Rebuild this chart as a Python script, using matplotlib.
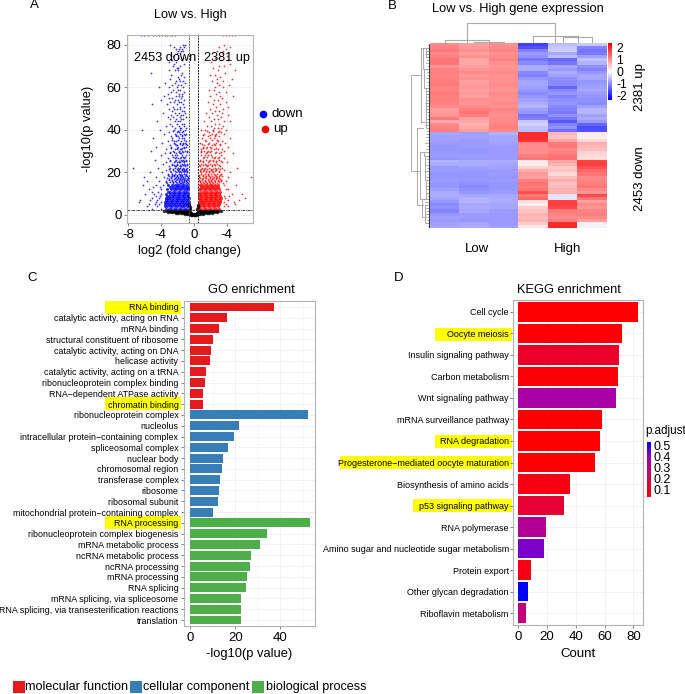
import matplotlib
matplotlib.use("Agg")
import matplotlib.pyplot as plt
from matplotlib.colors import LinearSegmentedColormap, Normalize
from matplotlib.patches import Rectangle
import numpy as np

W, H = 685, 694

# volcano, rows of points: y level, then x values
down_levels = [80, 79, 78, 77, 76, 75, 74, 73, 72, 71, 70, 69, 68, 67, 66, 65, 64, 63, 62, 61, 60, 59, 58, 57, 56, 55, 54, 53, 52, 51,
               50, 49, 48, 47, 46, 45, 44, 43, 42, 41, 40, 39, 38, 37, 36, 35, 34, 33, 32, 31, 30, 29, 28, 27, 26, 25, 24, 23, 22, 21,
               20, 19, 18, 17, 16, 15]
down_rows = [
    [-2.93, -1.32, -1.08], [-2.41, -1.62, -1.21], [-2.12, -1.83, -1.47], [-1.94, -1.58, -1.33], [-2.03, -1.71], [-2.55], [-1.92, -1.31], [-2.66, -1.44],
    [-3.02, -2.18], [-1.12, -2.37], [-2.51, -1.63], [-2.04, -1.86], [-3.04, -2.31, -1.92], [-5.21, -1.41], [-2.72, -1.57], [-1.91, -1.22], [-2.88, -1.73],
    [-2.21, -1.34, -1.68], [-3.52, -2.33, -1.11], [-1.94, -1.52, -2.62], [-4.22, -2.97, -2.05, -1.31], [-2.48, -1.63, -1.87], [-2.73, -1.22, -2.12],
    [-1.74, -3.11, -1.41], [-3.63, -2.21, -1.38, -1.83], [-2.62, -1.57, -2.94], [-4.03, -2.31, -1.12, -1.91], [-2.87, -1.52, -1.73, -2.42],
    [-5.02, -3.22, -2.03, -1.32], [-2.53, -1.63, -1.18], [-3.04, -2.41, -1.72, -2.02], [-1.22, -2.68, -1.43], [-3.72, -2.22, -1.81, -1.03],
    [-2.72, -1.53, -2.01, -1.24], [-3.13, -2.47, -1.72, -0.94], [-2.14, -1.33, -1.58, -2.82], [-4.41, -2.33, -1.63, -1.92], [-2.83, -1.22, -1.44, -2.08],
    [-3.34, -2.61, -1.83, -1.12], [-2.24, -1.52, -1.71, -0.98], [-6.31, -4.12, -2.44, -1.66, -1.03], [-3.01, -2.02, -1.38, -1.79],
    [-3.63, -2.33, -1.62, -0.92, -1.22], [-2.81, -1.94, -2.15, -1.43], [-4.92, -2.62, -1.82, -1.13, -1.37], [-3.14, -2.11, -1.58, -2.37, -0.88],
    [-3.91, -2.41, -1.72, -1.03, -1.29], [-2.93, -1.98, -2.21, -1.48, -0.82], [-4.52, -2.72, -1.87, -1.22, -0.91], [-3.31, -2.23, -1.53, -2.03, -1.71],
    [-5.13, -2.51, -1.83, -1.11, -1.38, -0.83], [-3.52, -2.92, -2.13, -1.52, -1.69], [-4.03, -2.62, -1.98, -1.42, -0.92, -2.31], [-3.13, -2.27, -1.72, -1.14, -1.88],
    [-4.72, -2.83, -2.11, -1.53, -0.93, -1.28], [-3.41, -2.41, -1.82, -1.22, -2.02, -1.63], [-3.72, -2.62, -1.98, -1.41, -0.81, -1.12],
    [-3.03, -2.33, -1.71, -1.07, -1.52, -2.11], [-7.38, -4.33, -2.83, -2.22, -1.62, -0.83, -1.31, -1.88], [-3.34, -2.52, -1.93, -1.41, -0.97, -1.18],
    [-5.33, -3.91, -2.73, -2.13, -1.83, -1.22, -1.58, -0.82], [-3.12, -2.42, -1.98, -1.47, -0.91, -1.71, -2.63], [-6.02, -4.62, -3.63, -2.72, -2.18, -1.53, -0.72, -1.26, -1.87],
    [-3.03, -2.41, -2.03, -1.62, -1.12, -0.83, -1.38], [-5.72, -4.23, -3.41, -2.68, -2.23, -1.81, -1.42, -0.88, -1.13], [-3.22, -2.53, -2.07, -1.69, -1.27, -0.71, -0.98, -1.51],
]
# the busier band between y 15 and y 40
down_fill_levels = [39.5, 37.5, 35.5, 33.5, 31.5, 29.5, 27.5, 25.5, 23.5, 21.5, 20.5, 19.5, 18.5, 17.5, 16.5, 15.5]
down_fill_rows = [
    [-2.57, -1.86, -1.27], [-2.12, -1.48, -1.06], [-2.66, -1.96, -1.19], [-2.28, -1.61, -0.97, -1.34],
    [-2.74, -2.06, -1.42, -1.16], [-2.36, -1.78, -1.24, -0.86, -2.87], [-2.52, -2.17, -1.58, -1.03, -1.33],
    [-2.88, -2.26, -1.76, -1.47, -0.94, -1.17], [-2.68, -2.03, -1.68, -1.36, -1.09, -0.79, -2.39],
    [-2.97, -2.46, -2.07, -1.74, -1.46, -1.16, -0.88], [-2.82, -2.27, -1.94, -1.63, -1.32, -1.03, -0.76],
    [-3.16, -2.58, -2.23, -1.79, -1.51, -1.19, -0.92], [-2.94, -2.36, -2.07, -1.67, -1.41, -1.09, -0.79, -2.62],
    [-3.24, -2.76, -2.32, -1.96, -1.61, -1.34, -1.02, -0.72], [-2.97, -2.61, -2.16, -1.84, -1.53, -1.23, -0.92, -0.69],
    [-3.33, -2.86, -2.47, -2.12, -1.77, -1.46, -1.14, -0.84],
]
down_core_levels = [14, 13, 12, 11, 10, 9, 8, 7, 6, 5, 4, 3]
down_core_rows = [
    [-3.11, -2.61, -2.32, -2.02, -1.74, -1.43, -1.12, -0.82],
    [-2.82, -2.47, -2.18, -1.88, -1.57, -1.28, -0.97, -0.72],
    [-3.22, -2.71, -2.41, -2.13, -1.82, -1.52, -1.21, -0.91, -0.68],
    [-3.17, -2.88, -2.56, -2.27, -1.96, -1.67, -1.36, -1.06, -0.77],
    [-3.31, -2.83, -2.52, -2.23, -1.92, -1.62, -1.31, -1.02, -0.71],
    [-3.28, -2.97, -2.67, -2.38, -2.08, -1.77, -1.47, -1.17, -0.86, -0.64],
    [-3.42, -3.11, -2.82, -2.52, -2.21, -1.93, -1.62, -1.31, -1.02, -0.71, -0.61],
    [-3.38, -3.07, -2.76, -2.47, -2.17, -1.87, -1.57, -1.26, -0.96, -0.68],
    [-3.51, -3.23, -2.92, -2.62, -2.31, -2.02, -1.71, -1.42, -1.12, -0.81, -0.62],
    [-3.47, -3.16, -2.86, -2.56, -2.26, -1.96, -1.66, -1.36, -1.06, -0.76, -0.61],
    [-3.52, -3.21, -2.91, -2.62, -2.32, -2.02, -1.72, -1.42, -1.12, -0.82, -0.62],
    [-3.31, -3.02, -2.71, -2.42, -2.11, -1.82, -1.52, -1.22, -0.92, -0.63],
]
down_outlier_levels = [14, 13, 12, 11, 10, 9, 8, 7, 6, 5, 4, 3]
down_outlier_rows = [
    [-6.12, -4.53, -3.72], [-4.92, -4.11], [-5.41, -3.93], [-5.02, -4.33], [-5.91, -4.83, -3.98], [-4.52, -4.06],
    [-5.03, -4.22], [-6.48, -5.33, -4.41], [-6.62, -4.63, -3.97], [-5.42, -4.72, -4.18], [-5.62, -4.42], [-5.11, -4.02],
]
up_levels = [80, 79, 78, 77, 76, 75, 74, 73, 72, 71, 70, 69, 68, 67, 66, 65, 64, 63, 62, 61, 60, 59, 58, 57, 56, 55, 54, 53, 52, 51,
             50, 49, 48, 47, 46, 45, 44, 43, 42, 41, 40, 39, 38, 37, 36, 35, 34, 33, 32, 31, 30, 29, 28, 27, 26, 25, 24, 23, 22, 21,
             20, 19, 18, 17, 16, 15]
up_rows = [
    [3.72], [3.11, 4.42], [3.93], [2.83, 3.52], [3.41], [4.02], [2.62], [3.34, 4.13], [2.12], [4.41], [3.02, 3.63], [2.34], [2.91, 5.04], [3.83], [1.92, 2.53],
    [3.21], [4.62, 2.84], [3.52, 2.23], [2.81], [3.13, 4.33], [2.62, 3.58], [1.83, 2.41], [3.02, 3.91], [2.73], [2.03, 3.24, 4.72], [3.41], [2.52, 2.93],
    [3.88, 1.71], [2.33, 3.14], [4.21, 2.72], [2.01, 3.58], [2.63, 3.03], [1.52, 2.24, 3.42], [2.81, 4.13], [1.83, 3.31], [2.42, 2.97], [1.21, 2.13, 3.72, 4.41],
    [2.58, 3.11], [1.62, 2.04, 3.52], [2.47, 2.98, 3.31], [0.92, 1.43, 2.39, 3.92], [1.88, 2.91, 3.32], [1.22, 2.21, 3.63, 2.71], [1.71, 3.13, 2.53],
    [1.03, 2.03, 2.42, 4.43], [1.52, 2.93, 3.38], [0.82, 1.83, 2.71, 3.81], [1.31, 2.27, 3.22, 2.57], [1.12, 1.63, 2.03, 4.12], [2.48, 2.91, 3.41, 0.93],
    [0.83, 1.22, 1.71, 3.62, 2.13], [2.54, 3.03, 1.44, 4.82], [0.91, 1.33, 1.73, 2.12, 3.34], [2.52, 2.91, 1.07, 3.71], [0.72, 1.52, 1.93, 2.31, 3.13],
    [1.13, 2.72, 1.68, 3.43, 4.03], [0.93, 1.32, 2.02, 2.43, 2.84], [1.61, 2.18, 3.22, 0.74], [1.03, 1.42, 1.81, 2.53, 2.93, 3.43, 5.21],
    [0.71, 1.22, 2.13, 2.72, 3.62], [0.83, 1.53, 1.91, 2.31, 3.03, 4.43], [1.08, 1.72, 2.57, 3.21, 0.68], [0.62, 1.33, 2.01, 2.43, 2.83, 6.92, 4.21],
    [1.02, 1.68, 2.22, 2.67, 3.17], [0.72, 1.43, 1.83, 2.13, 2.53, 2.93, 3.33, 3.92], [0.93, 1.23, 1.58, 1.97, 2.38, 2.78, 3.57],
]
up_fill_levels = [39.5, 37.5, 35.5, 33.5, 31.5, 29.5, 27.5, 25.5, 23.5, 21.5, 20.5, 19.5, 18.5, 17.5, 16.5, 15.5]
up_fill_rows = [
    [1.57, 2.36, 3.07], [1.18, 2.62, 1.93], [1.36, 2.17, 2.87], [0.97, 1.74, 2.46, 3.17],
    [1.47, 2.07, 2.66, 1.08], [0.87, 1.58, 1.92, 2.76, 3.27], [1.26, 1.62, 2.24, 2.56, 3.02], [0.78, 1.17, 1.84, 2.36, 2.68, 3.26],
    [1.08, 1.47, 1.76, 2.17, 2.62, 3.06, 0.66], [0.86, 1.28, 1.64, 2.04, 2.38, 2.76, 3.18], [0.74, 1.12, 1.46, 1.86, 2.24, 2.64, 3.02],
    [0.91, 1.36, 1.78, 2.12, 2.46, 2.86, 3.26], [0.67, 1.07, 1.44, 1.87, 2.26, 2.66, 3.06, 3.44], [0.82, 1.16, 1.54, 1.92, 2.34, 2.72, 3.12],
    [0.66, 0.98, 1.37, 1.76, 2.14, 2.52, 2.96, 3.36], [0.76, 1.12, 1.47, 1.82, 2.22, 2.62, 3.04],
]
up_core_levels = [14, 13, 12, 11, 10, 9, 8, 7, 6, 5, 4, 3]
up_core_rows = [
    [0.71, 1.02, 1.33, 1.62, 1.93, 2.22, 2.53, 2.92],
    [0.83, 1.17, 1.47, 1.78, 2.07, 2.38, 2.67, 2.98],
    [0.62, 0.92, 1.22, 1.53, 1.82, 2.12, 2.41, 2.72, 3.03],
    [0.78, 1.07, 1.37, 1.67, 1.97, 2.27, 2.57, 2.87, 3.17],
    [0.61, 0.91, 1.21, 1.52, 1.81, 2.12, 2.42, 2.71, 3.02],
    [0.74, 1.04, 1.34, 1.64, 1.94, 2.24, 2.54, 2.84, 3.14],
    [0.62, 0.92, 1.22, 1.51, 1.82, 2.11, 2.41, 2.72, 3.02, 3.33],
    [0.76, 1.06, 1.36, 1.66, 1.96, 2.26, 2.56, 2.86, 3.16],
    [0.6, 0.83, 1.12, 1.42, 1.72, 2.03, 2.32, 2.62, 2.92, 3.22],
    [0.68, 0.97, 1.27, 1.57, 1.87, 2.17, 2.47, 2.77, 3.07],
    [0.6, 0.82, 1.11, 1.41, 1.72, 2.02, 2.32, 2.62, 2.91],
    [0.62, 0.93, 1.23, 1.52, 1.82, 2.13, 2.41, 2.72, 3.02],
]
up_outlier_levels = [14, 12, 10, 9, 8, 7, 6, 5, 4]
up_outlier_rows = [
    [3.72, 5.13], [3.93, 4.22], [4.61, 5.92], [3.62, 4.33], [3.81, 6.22], [4.12, 5.51], [3.63, 4.92], [3.94, 5.03], [4.11, 3.62],
]
ns_levels = [2.0, 1.5, 1.0, 0.5, 0.2, 4.5, 3.5, 2.8]
ns_rows = [
    [-3.6, -3.3, -3.0, -2.7, -2.4, -2.1, -1.8, -1.5, -1.2, -0.9, -0.7, 0.7, 0.9, 1.2, 1.5, 1.8, 2.1, 2.4, 2.7, 3.0, 3.3],
    [-3.1, -2.8, -2.5, -2.2, -1.9, -1.6, -1.3, -1.0, -0.7, -0.5, 0.5, 0.7, 1.0, 1.3, 1.6, 1.9, 2.2, 2.5, 2.8],
    [-2.2, -1.9, -1.6, -1.3, -1.0, -0.7, -0.5, -0.35, 0.35, 0.5, 0.7, 1.0, 1.3, 1.6, 1.9, 2.2],
    [-1.1, -0.8, -0.55, -0.4, -0.25, -0.1, 0.1, 0.25, 0.4, 0.55, 0.8, 1.1],
    [-0.3, -0.15, 0.0, 0.15, 0.3],
    [-0.52, 0.47], [-0.5, 0.47], [-0.48, 0.46],
]
rug_down = [-6.4, -6.0, -5.5, -5.0, -4.6, -4.2, -3.8, -3.5, -3.2, -2.9, -2.6, -2.3]
rug_up = [3.5, 3.9, 4.3, 4.7, 5.0]

# heatmap, rows top to bottom; columns are Low x3 then High x3
heat_values = [
    [1.05, 0.85, 1.00, -1.70, -0.60, -0.50],
    [1.10, 0.90, 1.05, -1.55, -0.50, -1.10],
    [1.20, 1.00, 1.10, -1.15, -0.45, -1.25],
    [1.05, 0.85, 1.00, -0.90, -0.80, -1.20],
    [1.15, 1.00, 1.05, -1.00, -0.60, -0.85],
    [1.25, 0.80, 1.10, -1.25, -1.35, -0.55],
    [1.25, 0.80, 1.00, -1.05, -1.25, -0.70],
    [0.95, 0.85, 0.95, -0.75, -0.80, -1.00],
    [1.10, 0.95, 1.00, -0.75, -0.90, -1.10],
    [1.15, 1.05, 1.05, -1.05, -0.75, -0.95],
    [1.10, 0.90, 1.00, -1.15, -0.85, -0.80],
    [1.15, 1.00, 1.00, -0.95, -1.00, -0.80],
    [1.15, 0.85, 1.00, -0.80, -1.05, -0.95],
    [1.20, 0.90, 1.05, -0.80, -1.05, -0.90],
    [1.10, 0.95, 1.00, -0.85, -1.40, -0.85],
    [1.10, 0.85, 0.95, -0.95, -1.05, -0.80],
    [1.20, 0.90, 1.05, -1.05, -0.95, -0.90],
    [1.15, 0.85, 1.00, -0.95, -1.10, -0.95],
    [1.15, 1.00, 1.00, -0.85, -1.00, -1.00],
    [1.10, 0.95, 1.05, -0.75, -0.95, -1.05],
    [1.05, 1.05, 1.00, -0.65, -1.05, -0.85],
    [0.85, 1.15, 1.10, -0.85, -1.15, -0.65],
    [0.90, 1.25, 1.05, -0.95, -1.20, -0.65],
    [0.95, 1.15, 1.00, -1.25, -1.00, -0.85],
    [1.20, 0.85, 1.05, -1.15, -1.25, -0.75],
    [0.75, 0.80, 1.05, -0.50, -1.50, -0.90],
    [1.05, 0.70, 1.10, -0.40, -1.10, -1.40],
    [1.10, 0.80, 1.15, -0.55, -1.00, -1.60],
    [1.15, 0.90, 1.05, -0.60, -1.30, -1.55],
    [-0.80, -0.85, -0.70, 1.90, 0.65, 0.20],
    [-0.85, -0.85, -0.80, 1.90, 0.55, 0.15],
    [-0.85, -0.90, -0.80, 1.85, 0.80, 0.35],
    [-0.90, -0.90, -0.85, 1.05, 1.20, 0.75],
    [-0.95, -0.90, -0.90, 1.00, 1.20, 0.65],
    [-0.95, -0.95, -0.90, 1.05, 1.05, 0.60],
    [-0.90, -0.95, -0.90, 1.00, 1.15, 0.40],
    [-0.90, -0.90, -0.90, 1.15, 1.25, 0.35],
    [-0.95, -0.90, -0.90, 1.25, 1.30, 0.30],
    [-0.70, -0.75, -0.75, 0.20, 0.80, 1.70],
    [-0.75, -0.75, -0.80, 0.15, 0.70, 1.75],
    [-0.90, -0.85, -0.85, 0.40, 0.45, 1.55],
    [-0.90, -0.90, -0.90, 0.75, 0.55, 1.35],
    [-0.95, -0.95, -0.90, 0.90, 0.35, 1.25],
    [-0.95, -0.95, -0.95, 0.85, 0.60, 1.05],
    [-0.90, -0.95, -0.90, 1.15, 0.75, 1.10],
    [-0.95, -1.00, -0.95, 1.25, 0.55, 1.15],
    [-0.95, -1.05, -0.95, 1.20, 0.60, 1.25],
    [-0.85, -1.00, -0.95, 1.25, 0.70, 1.05],
    [-0.75, -0.95, -0.90, 1.55, 0.70, 0.95],
    [-0.75, -0.80, -0.80, 1.20, -0.25, 1.65],
    [-0.80, -0.70, -0.75, 1.35, -0.20, 1.25],
    [-0.95, -0.70, -0.75, 0.30, 1.70, 0.85],
    [-1.05, -0.80, -0.80, 0.15, 1.75, 1.05],
    [-1.00, -0.75, -0.80, 0.45, 1.65, 0.95],
    [-1.10, -0.80, -0.90, 0.55, 1.20, 1.10],
    [-0.95, -0.90, -0.90, 0.70, 1.10, 1.15],
    [-0.85, -0.90, -0.90, 0.60, 1.05, 1.05],
    [-0.90, -0.95, -0.90, 0.70, 1.15, 0.85],
    [-0.85, -0.80, -0.90, 0.45, 1.90, 0.15],
    [-0.80, -0.75, -0.85, 0.25, 1.95, -0.10],
]
col_merge_left = [1, 0, 0.75, 4, 3]
col_merge_right = [2, 1.5, 3.75, 5, 4.5]
col_merge_height = [1.3, 2.7, 19.7, 6.3, 7.0]
tree_row_a = [10, 1, 27, 1, 8, 35, 35, 50, 36, 52, 14, 20, 44, 1]
tree_row_b = [41, 25, 52, 8, 14, 50, 36, 56, 44, 58, 20, 27, 50, 4]
tree_depth = [19.0, 9.0, 13.0, 7.5, 6.0, 10.0, 6.0, 8.0, 5.0, 5.5, 4.5, 4.0, 4.5, 4.5]
leaf_depth = [2, 4, 3, 5, 2, 3, 4, 2, 5, 3, 2, 4, 3, 2, 5, 3, 4, 2, 3, 5, 2, 4, 3, 2, 4, 3, 5, 2, 3, 4,
              4, 2, 5, 3, 4, 2, 5, 3, 2, 4, 3, 5, 2, 4, 3, 2, 5, 3, 4, 2, 3, 5, 2, 4, 3, 5, 2, 3, 4, 2]
heat_ticks = [2, 1, 0, -1, -2]

go_terms = ["RNA binding", "catalytic activity, acting on RNA", "mRNA binding", "structural constituent of ribosome",
            "catalytic activity, acting on DNA", "helicase activity", "catalytic activity, acting on a tRNA",
            "ribonucleoprotein complex binding", "RNA\u2212dependent ATPase activity", "chromatin binding",
            "ribonucleoprotein complex", "nucleolus", "intracellular protein\u2212containing complex", "spliceosomal complex",
            "nuclear body", "chromosomal region", "transferase complex", "ribosome", "ribosomal subunit",
            "mitochondrial protein\u2212containing complex", "RNA processing", "ribonucleoprotein complex biogenesis",
            "mRNA metabolic process", "ncRNA metabolic process", "ncRNA processing", "mRNA processing", "RNA splicing",
            "mRNA splicing, via spliceosome", "RNA splicing, via transesterification reactions", "translation"]
go_values = [37.0, 16.4, 12.7, 10.3, 9.1, 8.7, 6.9, 6.5, 5.7, 5.7,
             52.3, 21.7, 19.5, 16.7, 14.6, 14.0, 13.1, 13.0, 12.4, 10.2,
             53.0, 34.2, 30.8, 27.1, 26.7, 25.4, 24.8, 22.7, 22.7, 22.4]
go_groups = ["molecular function"] * 10 + ["cellular component"] * 10 + ["biological process"] * 10
go_marked = ["RNA binding", "chromatin binding", "RNA processing"]

kegg_terms = ["Cell cycle", "Oocyte meiosis", "Insulin signaling pathway", "Carbon metabolism", "Wnt signaling pathway",
              "mRNA surveillance pathway", "RNA degradation", "Progesterone\u2212mediated oocyte maturation",
              "Biosynthesis of amino acids", "p53 signaling pathway", "RNA polymerase",
              "Amino sugar and nucleotide sugar metabolism", "Protein export", "Other glycan degradation", "Riboflavin metabolism"]
kegg_counts = [83, 72, 70, 69, 68, 58, 57, 53, 36, 32, 19, 18, 9, 7, 5]
kegg_padjust = [0.04, 0.04, 0.12, 0.05, 0.36, 0.04, 0.04, 0.04, 0.07, 0.14, 0.33, 0.43, 0.08, 0.536, 0.29]
kegg_marked = {"Oocyte meiosis": 435, "RNA degradation": 435, "Progesterone\u2212mediated oocyte maturation": 340, "p53 signaling pathway": 413}
padjust_ticks = [0.5, 0.4, 0.3, 0.2, 0.1]

group_colors = {"molecular function": "#e41a1c", "cellular component": "#377eb8", "biological process": "#4daf4a"}
heat_cmap = LinearSegmentedColormap.from_list("heat", ["#0000ff", "#ffffff", "#ff0000"])
p_cmap = LinearSegmentedColormap.from_list("padj", [(0, "#ff0000"), (0.5, "#c4007c"), (0.75, "#9400c0"), (1, "#0000ff")])

plt.rcParams["font.family"] = ["Liberation Sans", "DejaVu Sans"]
plt.rcParams["axes.unicode_minus"] = False

fig = plt.figure(figsize=(W / 100, H / 100), dpi=100)


def px_axes(x0, y0, x1, y1):
    return fig.add_axes([x0 / W, 1 - y1 / H, (x1 - x0) / W, (y1 - y0) / H])


def px_text(x, y, s, size=9, ha="center", va="center", **kw):
    return fig.text(x / W, 1 - y / H, s, fontsize=size, ha=ha, va=va, **kw)


def px_box(x0, y0, x1, y1, color, zorder=1):
    fig.patches.append(Rectangle((x0 / W, 1 - y1 / H), (x1 - x0) / W, (y1 - y0) / H, transform=fig.transFigure,
                                 facecolor=color, edgecolor="none", zorder=zorder))


def style_panel(ax):
    for s in ax.spines.values():
        s.set_color("#b3b3b3")
        s.set_linewidth(0.8)
    ax.set_axisbelow(True)
    ax.grid(True, color="#f0f0f0", linewidth=0.6)
    ax.tick_params(length=2, width=0.5, color="#555555", pad=2)


def flatten(levels, rows):
    xs, ys = [], []
    for y, row in zip(levels, rows):
        xs += row
        ys += [y] * len(row)
    return xs, ys


# A: volcano
ax = px_axes(127, 35, 253, 223)
style_panel(ax)
for levels, rows, color, size in [
    (down_levels, down_rows, "#0000ff", 1.6), (up_levels, up_rows, "#ff0000", 1.6),
    (down_fill_levels, down_fill_rows, "#0000ff", 1.8), (up_fill_levels, up_fill_rows, "#ff0000", 1.8),
    (down_outlier_levels, down_outlier_rows, "#0000ff", 1.6), (up_outlier_levels, up_outlier_rows, "#ff0000", 1.6),
    (down_core_levels, down_core_rows, "#0000ff", 5), (up_core_levels, up_core_rows, "#ff0000", 5),
    (ns_levels, ns_rows, "#000000", 6),
]:
    xs, ys = flatten(levels, rows)
    ax.scatter(xs, ys, s=size, color=color, linewidths=0, alpha=0.8)
ax.scatter(rug_down, [84.6] * len(rug_down), s=2, color="#0000ff", linewidths=0)
ax.scatter(rug_up, [84.6] * len(rug_up), s=2, color="#ff0000", linewidths=0)
ax.axvline(-0.55, color="#555555", linestyle=(0, (2, 1)), linewidth=0.7)
ax.axvline(0.5, color="#222222", linestyle=(0, (2, 1)), linewidth=0.7)
ax.axhline(2.2, color="#222222", linestyle=(0, (3, 1, 1, 1)), linewidth=0.6)
ax.set_xlim(-8.1, 7.2)
ax.set_ylim(-3.8, 84.7)
ax.set_xticks([-8, -4, 0, 4])
ax.set_xticklabels(["-8", "-4", "0", "-4"], fontsize=9.5)
ax.set_yticks([0, 20, 40, 60, 80])
ax.tick_params(axis="y", labelsize=9.5)
ax.set_xlabel("log2 (fold change)", fontsize=9.3, labelpad=3)
ax.set_ylabel("-log10(p value)", fontsize=9.3, labelpad=9.5)
px_text(190, 15, "Low vs. High", 9.2)
px_text(165, 58, "2453 down", 9.2)
px_text(227, 58, "2381 up", 9.2)
fig.add_artist(plt.Line2D([263 / W], [1 - 114 / H], marker="o", markersize=4.5, color="#0000ff", linestyle=""))
fig.add_artist(plt.Line2D([265 / W], [1 - 129 / H], marker="o", markersize=4.5, color="#ff0000", linestyle=""))
px_text(271, 114, "down", 9.5, ha="left")
px_text(273, 129, "up", 9.5, ha="left")

# B: heatmap
heat = np.array(heat_values)
ax = px_axes(430, 43, 607, 228)
ax.imshow(heat, cmap=heat_cmap, vmin=-2.3, vmax=2.3, aspect="auto", interpolation="nearest")
ax.axis("off")

ax = px_axes(430, 20, 607, 43)
for a, b, h in zip(col_merge_left, col_merge_right, col_merge_height):
    ax.plot([a, a, b, b], [0, h, h, 0], color="#aaaaaa", linewidth=0.8)
ax.set_xlim(-0.5, 5.5)
ax.set_ylim(0, 23)
ax.axis("off")

ax = px_axes(409, 43, 430, 228)
for row, d in enumerate(leaf_depth):
    ax.plot([0, d], [row, row], color="#666666", linewidth=0.4)
for a, b, d in zip(tree_row_a, tree_row_b, tree_depth):
    ax.plot([d * 0.55, d, d, d * 0.55], [a, a, b, b], color="#aaaaaa", linewidth=0.7)
ax.plot([0.5, 0.5], [0, 59.5], color="#000000", linewidth=1.8)
ax.set_xlim(21, 0)
ax.set_ylim(59.5, -0.5)
ax.axis("off")

ax = px_axes(608, 43, 612, 100)
ax.imshow(np.linspace(2.35, -2.35, 100).reshape(-1, 1), cmap=heat_cmap, vmin=-2.3, vmax=2.3, aspect="auto", extent=[0, 1, -2.35, 2.35])
ax.set_xticks([])
ax.set_yticks(heat_ticks)
ax.set_yticklabels(["2", "1", "0", "-1", "-2"], fontsize=8.8)
ax.yaxis.tick_right()
ax.tick_params(length=0, pad=3)
for s in ax.spines.values():
    s.set_visible(False)
px_text(518, 9, "Low vs. High gene expression", 9.3)
px_text(477, 249, "Low", 9.5)
px_text(568, 249, "High", 9.5)
px_text(640, 87, "2381 up", 9.5, rotation=90)
px_text(640, 179, "2453 down", 9.5, rotation=90)

# C: GO bars
ax = px_axes(184, 301, 315, 626)
style_panel(ax)
ypos = np.arange(len(go_terms))
ax.barh(ypos, go_values, height=0.82, color=[group_colors[g] for g in go_groups])
ax.set_yticks(ypos)
ax.set_yticklabels(go_terms, fontsize=6.4)
ax.set_ylim(len(go_terms) - 0.45, -0.55)
ax.set_xlim(-2.65, 55.3)
ax.set_xticks([0, 20, 40])
ax.set_xticks([10, 30, 50], minor=True)
ax.grid(True, which="minor", axis="x", color="#f6f6f6", linewidth=0.4)
ax.tick_params(axis="x", which="minor", length=0)
ax.tick_params(axis="x", labelsize=9.5)
ax.set_xlabel("-log10(p value)", fontsize=9.3, labelpad=3)
for term in go_marked:
    row = go_terms.index(term)
    px_box(105, 307 + row * 10.77 - 6.5, 181, 307 + row * 10.77 + 6.5, "#ffff00", zorder=-1)
px_text(251, 290, "GO enrichment", 9.2)

# D: KEGG bars
ax = px_axes(513, 300, 643, 625)
style_panel(ax)
ypos = np.arange(len(kegg_terms))
p_norm = Normalize(0.036, 0.536)
ax.barh(ypos, kegg_counts, height=0.9, color=[p_cmap(p_norm(p)) for p in kegg_padjust])
ax.set_yticks(ypos)
ax.set_yticklabels(kegg_terms, fontsize=6.45)
ax.set_ylim(len(kegg_terms) - 0.45, -0.55)
ax.set_xlim(-3.7, 86.7)
ax.set_xticks([0, 20, 40, 60, 80])
ax.tick_params(axis="x", labelsize=9.5)
ax.tick_params(axis="y", pad=1)
ax.set_xlabel("Count", fontsize=9.5, labelpad=4)
for term, left in kegg_marked.items():
    row = kegg_terms.index(term)
    px_box(left, 313 + row * 21.35 - 6.5, 512, 313 + row * 21.35 + 6.5, "#ffff00", zorder=-1)
px_text(569, 290, "KEGG enrichment", 9.2)

ax = px_axes(647, 442, 651, 497)
ax.imshow(np.linspace(0.536, 0.036, 100).reshape(-1, 1), cmap=p_cmap, norm=p_norm, aspect="auto", extent=[0, 1, 0.036, 0.536])
ax.set_xticks([])
ax.set_yticks(padjust_ticks)
ax.set_yticklabels([str(t) for t in padjust_ticks], fontsize=9)
ax.yaxis.tick_right()
ax.tick_params(length=0, pad=2)
for s in ax.spines.values():
    s.set_visible(False)
px_text(645, 431, "p.adjust", 8.4, ha="left")

# panel letters and group legend
for letter, x, y in [("A", 34, 5), ("B", 392, 6), ("C", 32, 278), ("D", 399, 278)]:
    px_text(x, y, letter, 9.5)
for name, box_x, text_x in [("molecular function", 13, 25), ("cellular component", 130, 143), ("biological process", 252, 266)]:
    px_box(box_x, 681, box_x + 12, 693, group_colors[name])
    px_text(text_x, 687, name, 9.1, ha="left")

fig.savefig("out.png", dpi=100)
